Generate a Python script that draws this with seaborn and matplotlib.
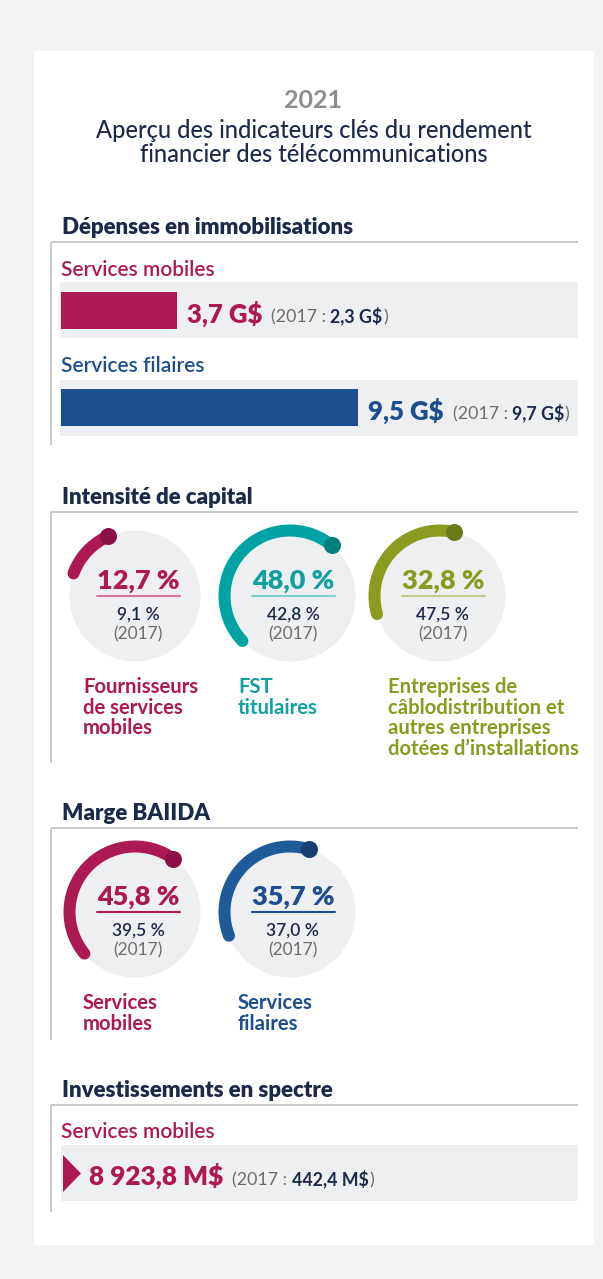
import numpy as np
import pandas as pd
import matplotlib
matplotlib.use("Agg")
import matplotlib.pyplot as plt
import seaborn as sns
from matplotlib.patches import Rectangle, Circle, Polygon

# ---------------- data ----------------
title_year = "2021"
title_lines = ["Aperçu des indicateurs clés du rendement",
               "financier des télécommunications"]
section_titles = ["Dépenses en immobilisations", "Intensité de capital",
                  "Marge BAIIDA", "Investissements en spectre"]

capex_categories = ["Services mobiles", "Services filaires"]
capex_2021 = [3.7, 9.5]      # G$
capex_2017 = [2.3, 9.7]      # G$

intensity_labels = ["Fournisseurs\nde services\nmobiles",
                    "FST\ntitulaires",
                    "Entreprises de\ncâblodistribution et\nautres entreprises\ndotées d’installations"]
intensity_2021 = [12.7, 48.0, 32.8]   # %
intensity_2017 = [9.1, 42.8, 47.5]    # %

ebitda_labels = ["Services\nmobiles", "Services\nfilaires"]
ebitda_2021 = [45.8, 35.7]   # %
ebitda_2017 = [39.5, 37.0]   # %

spectrum_category = "Services mobiles"
spectrum_2021 = 8923.8   # M$
spectrum_2017 = 442.4    # M$

# ---------------- style ----------------
BG = "#F2F3F5"
LINE = "#C9C9C9"
BAND = "#EEEFF1"
DISK = "#EEEFF1"
NAVY = "#1B2A4A"
GREY_T = "#6E6E6E"
MAG = "#AD1952"
MAG_DOT = "#8A1046"
MAG_UL = "#D8739C"
BLUE = "#1D4F8E"
BLUE_ARC = "#1F5A9A"
BLUE_DOT = "#163F70"
TEAL = "#00A3A3"
TEAL_TXT = "#12A0A0"
TEAL_DOT = "#00807D"
TEAL_UL = "#80CFCF"
OLIVE = "#8A9B1F"
OLIVE_DOT = "#6C7919"
OLIVE_UL = "#C2CC90"

sns.set_theme(style="white")
plt.rcParams["font.family"] = ["Lato", "DejaVu Sans"]

W, H = 603, 1279
fig = plt.figure(figsize=(W / 100, H / 100), dpi=100)
fig.patch.set_facecolor(BG)
renderer = fig.canvas.get_renderer()

HEAVY = "heavy"
SMALL = 12.8


def fr(v, nd=1):
    s = f"{v:,.{nd}f}"
    return s.replace(",", " ").replace(".", ",")


def px_axes(x0, y0, w, h):
    ax = fig.add_axes([x0 / W, 1 - (y0 + h) / H, w / W, h / H])
    ax.set_facecolor("none")
    return ax


def text_run(ax, x, y, pieces):
    for s, gap, kw in pieces:
        t = ax.text(x, y, s, ha="left", va="baseline", **kw)
        bb = t.get_window_extent(renderer=renderer)
        x = ax.transData.inverted().transform((bb.x1 + gap, bb.y0))[0]


# canvas in pixel coordinates
canvas = fig.add_axes([0, 0, 1, 1])
canvas.set_xlim(0, W)
canvas.set_ylim(H, 0)
canvas.axis("off")
canvas.add_patch(Rectangle((34, 51), 560, 1194, fc="white", ec="none", zorder=0))

# titles
canvas.text(313, 101, title_year, ha="center", va="center", fontsize=18,
            fontweight="bold", color="#8E8E8E")
for k, line in enumerate(title_lines):
    canvas.text(314, 130 + 25 * k, line, ha="center", va="center", fontsize=17,
                fontweight="medium", color=NAVY)

# section frames + headers
sections = [(234, 242, 445), (504, 512, 763), (820, 828, 1040), (1097, 1105, 1212)]
for title, (base, top, bottom) in zip(section_titles, sections):
    canvas.text(62, base, title, ha="left", va="baseline", fontsize=16,
                fontweight=HEAVY, color=NAVY)
    canvas.plot([51, 578], [top, top], color=LINE, lw=1.4, solid_capstyle="butt")
    canvas.plot([51, 51], [top, bottom], color=LINE, lw=1.4, solid_capstyle="butt")

# ---------------- section 1: bars ----------------
PX_PER_G = 31.3
ROW_PX = 97.5
sub_colors = [MAG, BLUE]
for i, cat in enumerate(capex_categories):
    canvas.text(61, [276, 372][i], cat, ha="left", va="baseline", fontsize=15,
                fontweight="semibold", color=sub_colors[i])

bar_ax = px_axes(60, 282, 518, 154)
df_capex = pd.DataFrame({"catégorie": capex_categories, "valeur": capex_2021})
sns.barplot(data=df_capex, x="valeur", y="catégorie", hue="catégorie",
            palette=sub_colors, saturation=1, width=37.5 / ROW_PX, orient="h",
            legend=False, ax=bar_ax, edgecolor="none", linewidth=0, zorder=2)
bar_ax.set_xlim(-1 / PX_PER_G, 517 / PX_PER_G)
bar_ax.set_ylim(1.29, -0.29)
for i in range(len(capex_categories)):
    bar_ax.axhspan(i - 0.287, i + 0.287, color=BAND, zorder=0, lw=0)
bar_ax.axis("off")
for i, (v, p) in enumerate(zip(capex_2021, capex_2017)):
    text_run(bar_ax, v + 10 / PX_PER_G, i + 12 / ROW_PX, [
        (f"{fr(v)} G$", 9, dict(fontsize=18.5, fontweight=HEAVY, color=sub_colors[i])),
        ("(2017 :", 4, dict(fontsize=SMALL, color=GREY_T)),
        (f"{fr(p)} G$", 0.5, dict(fontsize=SMALL, fontweight="bold", color=NAVY)),
        (")", 0, dict(fontsize=SMALL, color=GREY_T)),
    ])

# ---------------- gauges ----------------
R = 65.5
MID = 137


def gauge(cx, cy, pct, prev, arc_c, dot_c, txt_c, ul_c, label):
    ax = px_axes(cx - 85, cy - 85, 170, 170)
    ax.set_xlim(-85, 85)
    ax.set_ylim(-85, 85)
    ax.axis("off")
    ax.add_patch(Circle((0, 0), R, fc=DISK, ec="none", zorder=0))
    th = np.radians(np.linspace(MID - pct * 1.8, MID + pct * 1.8, 300))
    ax.plot(R * np.cos(th), R * np.sin(th), color=arc_c, lw=12 * 0.72,
            solid_capstyle="round", zorder=2, clip_on=False)
    ax.scatter([R * np.cos(th[0])], [R * np.sin(th[0])], s=(17 * 0.72) ** 2,
               color=dot_c, zorder=3, linewidths=0, clip_on=False)
    ax.text(3, 7, f"{fr(pct)} %", ha="center", va="baseline", fontsize=19.5,
            fontweight=HEAVY, color=txt_c)
    ax.plot([3 - 41.5, 3 + 41.5], [0, 0], color=ul_c, lw=1.5)
    ax.text(3, -23.5, f"{fr(prev)} %", ha="center", va="baseline", fontsize=12.5,
            fontweight="semibold", color=NAVY)
    ax.text(3, -43.5, "(2017)", ha="center", va="baseline", fontsize=12.5,
            color=GREY_T)
    for k, line in enumerate(label.split("\n")):
        canvas.text(cx - 52, cy + 97 + 20.6 * k, line, ha="left", va="baseline",
                    fontsize=14.6, fontweight="bold", color=txt_c)


int_style = [(MAG, MAG_DOT, MAG, MAG_UL), (TEAL, TEAL_DOT, TEAL_TXT, TEAL_UL),
             (OLIVE, OLIVE_DOT, OLIVE, OLIVE_UL)]
for cx, pct, prev, st, lab in zip([135, 290, 440], intensity_2021, intensity_2017,
                                  int_style, intensity_labels):
    gauge(cx, 596, pct, prev, *st, lab)

eb_style = [(MAG, MAG_DOT, MAG, MAG), (BLUE_ARC, BLUE_DOT, BLUE, BLUE)]
for cx, pct, prev, st, lab in zip([135, 290], ebitda_2021, ebitda_2017,
                                  eb_style, ebitda_labels):
    gauge(cx, 912, pct, prev, *st, lab)

# ---------------- section 4: spectrum ----------------
canvas.text(61, 1138, spectrum_category, ha="left", va="baseline", fontsize=15,
            fontweight="semibold", color=MAG)
canvas.add_patch(Rectangle((61, 1145), 517, 56, fc=BAND, ec="none", zorder=1))
canvas.add_patch(Polygon([(63, 1155), (81, 1173.5), (63, 1192)], closed=True,
                         fc=MAG, ec="none", zorder=2))
text_run(canvas, 89, 1185, [
    (f"{fr(spectrum_2021)} M$", 9, dict(fontsize=18.8, fontweight=HEAVY, color=MAG)),
    ("(2017 :", 4, dict(fontsize=SMALL, color=GREY_T)),
    (f"{fr(spectrum_2017)} M$", 0.5, dict(fontsize=SMALL, fontweight="bold", color=NAVY)),
    (")", 0, dict(fontsize=SMALL, color=GREY_T)),
])

fig.savefig("out.png", dpi=100, facecolor=BG)
